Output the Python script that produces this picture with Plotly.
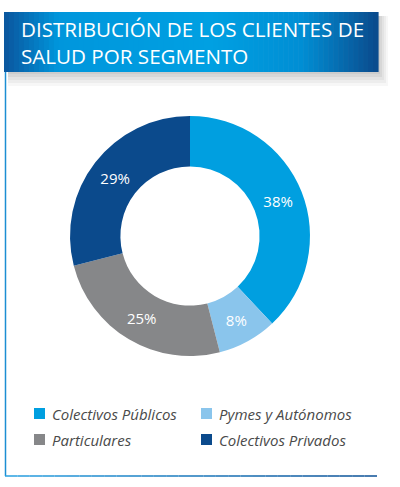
import plotly.graph_objects as go

segmentos = ["Colectivos Públicos", "Pymes y Autónomos", "Particulares", "Colectivos Privados"]
porcentajes = [38, 8, 25, 29]
colores = ["#009FE0", "#8AC5EC", "#868789", "#0B4A8C"]

titulo = "DISTRIBUCIÓN DE LOS CLIENTES DE<br>SALUD POR SEGMENTO"

W, H = 400, 487


def px_x(v):
    return v / W


def px_y(v):
    return 1 - v / H


fig = go.Figure(go.Pie(
    labels=segmentos,
    values=porcentajes,
    marker=dict(colors=colores, line=dict(width=0)),
    hole=0.58,
    sort=False,
    direction="clockwise",
    texttemplate="%{value}%",
    textposition="inside",
    insidetextorientation="horizontal",
    textfont=dict(family="Open Sans", size=15, color="white"),
    domain=dict(x=[px_x(70), px_x(310)], y=[px_y(356), px_y(116)]),
    hoverinfo="label+percent",
    showlegend=False,
))

# banda del titulo con degradado
stops = [(0, (10, 88, 160)), (0.14, (0, 150, 220)), (0.55, (0, 160, 226)),
         (0.8, (0, 142, 212)), (1, (10, 76, 142))]


def grad(t):
    for (t0, c0), (t1, c1) in zip(stops, stops[1:]):
        if t <= t1:
            f = (t - t0) / (t1 - t0)
            return "rgb(%d,%d,%d)" % tuple(round(a + (b - a) * f) for a, b in zip(c0, c1))
    return "rgb(%d,%d,%d)" % stops[-1][1]


shapes = []
# sombra
for i, op in enumerate([0.05, 0.05, 0.04, 0.04, 0.03]):
    shapes.append(dict(type="rect", xref="paper", yref="paper", layer="below",
                       x0=px_x(8), x1=px_x(380 + 2 * i), y0=px_y(74 + 3 * i), y1=px_y(16),
                       fillcolor="rgba(0,0,0,%s)" % op, line=dict(width=0)))
x0, x1, n = 4, 378, 75
for i in range(n):
    a = x0 + (x1 - x0) * i / n
    b = x0 + (x1 - x0) * (i + 1) / n + 0.6
    shapes.append(dict(type="rect", xref="paper", yref="paper",
                       x0=px_x(a), x1=px_x(b), y0=px_y(72), y1=px_y(12),
                       fillcolor=grad(i / (n - 1)), line=dict(width=0)))
# marco
shapes.append(dict(type="line", xref="paper", yref="paper",
                   x0=px_x(5.5), x1=px_x(5.5), y0=px_y(72), y1=px_y(476),
                   line=dict(color="#1C8ED3", width=1.5)))
for i in range(30):
    a = 5 + (377 - 5) * i / 30
    b = 5 + (377 - 5) * (i + 1) / 30
    t = i / 29
    c = tuple(round(p + (q - p) * t) for p, q in zip((40, 160, 225), (12, 80, 150)))
    shapes.append(dict(type="line", xref="paper", yref="paper",
                       x0=px_x(a), x1=px_x(b), y0=px_y(476), y1=px_y(476),
                       line=dict(color="rgb(%d,%d,%d)" % c, width=1.5)))

annotations = [dict(text=titulo, xref="paper", yref="paper", x=px_x(19), y=px_y(42),
                    xanchor="left", yanchor="middle", align="left", showarrow=False,
                    font=dict(family="Open Sans", size=20.6, color="white"))]

# leyenda en dos columnas
for k, (nombre, color) in enumerate(zip(segmentos, colores)):
    col, fila = k % 2, k // 2
    lx = 34 + 167 * col
    ly = 413.5 + 26 * fila
    shapes.append(dict(type="rect", xref="paper", yref="paper",
                       x0=px_x(lx), x1=px_x(lx + 11), y0=px_y(ly + 5.5), y1=px_y(ly - 5.5),
                       fillcolor=color, line=dict(width=0)))
    annotations.append(dict(text=nombre, xref="paper", yref="paper", x=px_x(lx + 16),
                            y=px_y(ly), xanchor="left", yanchor="middle", showarrow=False,
                            font=dict(family="Open Sans", size=15, color="#4a4a4a",
                                      style="italic")))

fig.update_layout(
    width=W, height=H,
    margin=dict(l=0, r=0, t=0, b=0),
    paper_bgcolor="white",
    plot_bgcolor="white",
    shapes=shapes,
    annotations=annotations,
    showlegend=False,
)

fig.write_html("out.html", config={"displayModeBar": False},
               post_script="document.body.style.margin='0';")
